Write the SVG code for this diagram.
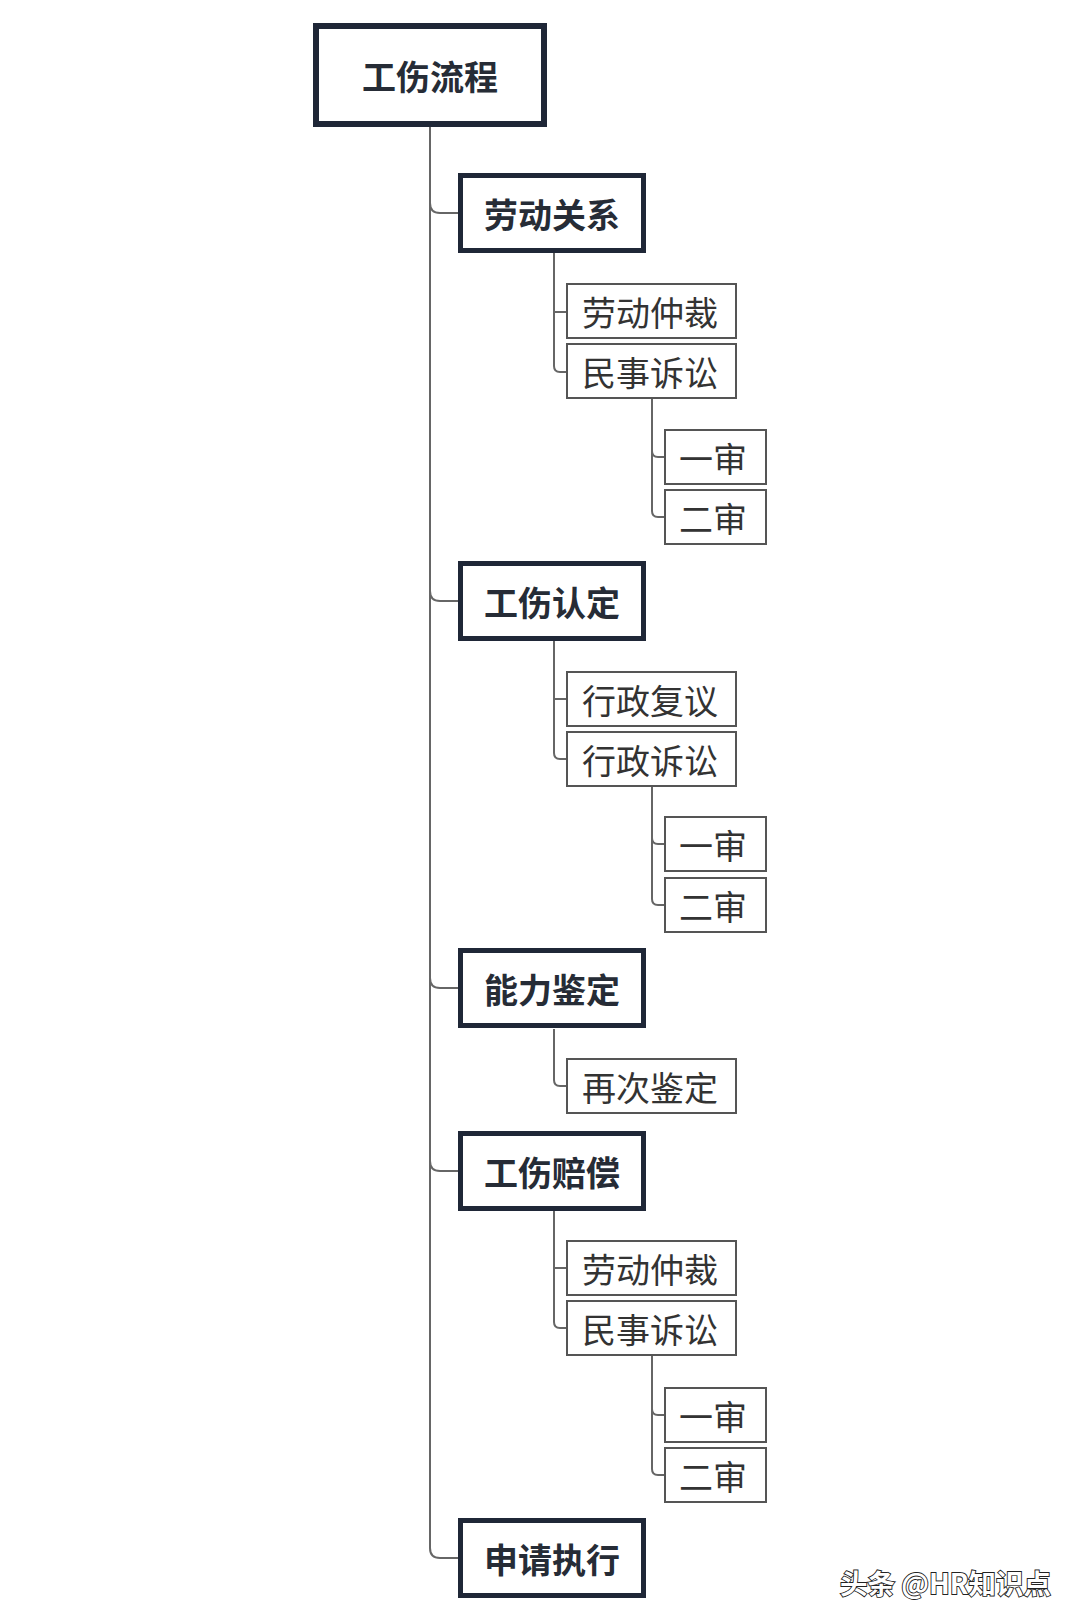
<svg xmlns="http://www.w3.org/2000/svg" width="1080" height="1620" viewBox="0 0 1080 1620">
<style>
text{font-family:"Noto Sans CJK SC","Noto Sans",sans-serif;text-anchor:middle;dominant-baseline:central}
.l1{fill:#fff;stroke:#1f2737;stroke-width:6}
.l2{fill:#fff;stroke:#1f2737;stroke-width:5}
.l3{fill:#fff;stroke:#555;stroke-width:2}
.t1{font-size:34px;font-weight:700;fill:#262c36}
.t3{font-size:34px;font-weight:400;fill:#333}
.c{fill:none;stroke:#666;stroke-width:2}
.wm{font-size:27.5px;font-weight:700;fill:#fff;stroke:#222;stroke-width:1.8;paint-order:stroke;text-anchor:start}
</style>
<rect width="1080" height="1620" fill="#fff"/>
<g id="connectors">
<path class="c" d="M430,127 V1548 Q430,1558 440,1558 H458"/>
<path class="c" d="M430,203 Q430,213 440,213 H458"/>
<path class="c" d="M430,591 Q430,601 440,601 H458"/>
<path class="c" d="M430,978 Q430,988 440,988 H458"/>
<path class="c" d="M430,1161 Q430,1171 440,1171 H458"/>
<path class="c" d="M554,253 V366 Q554,372 560,372 H566 M554,312 H566"/>
<path class="c" d="M652,398 V511 Q652,517 658,517 H664 M652,451 Q652,457 658,457 H664"/>
<path class="c" d="M554,641 V753 Q554,759 560,759 H566 M554,699 H566"/>
<path class="c" d="M652,787 V899 Q652,905 658,905 H664 M652,838 Q652,844 658,844 H664"/>
<path class="c" d="M554,1029 V1080 Q554,1086 560,1086 H566"/>
<path class="c" d="M554,1210 V1322 Q554,1328 560,1328 H566 M554,1268 H566"/>
<path class="c" d="M652,1356 V1469 Q652,1475 658,1475 H664 M652,1409 Q652,1415 658,1415 H664"/>
</g>
<g id="root"><rect class="l1" x="316" y="26" width="228" height="98"/><text class="t1" x="430" y="75">工伤流程</text></g>
<g id="n1"><rect class="l2" x="460.5" y="175.5" width="183" height="75"/><text class="t1" x="552" y="213">劳动关系</text></g>
<g id="n1a"><rect class="l3" x="567" y="284" width="169" height="54"/><text class="t3" x="650" y="311">劳动仲裁</text></g>
<g id="n1b"><rect class="l3" x="567" y="344" width="169" height="54"/><text class="t3" x="650" y="371">民事诉讼</text></g>
<g id="n1b1"><rect class="l3" x="665" y="430" width="101" height="54"/><text class="t3" x="713" y="457">一审</text></g>
<g id="n1b2"><rect class="l3" x="665" y="490" width="101" height="54"/><text class="t3" x="713" y="517">二审</text></g>
<g id="n2"><rect class="l2" x="460.5" y="563.5" width="183" height="75"/><text class="t1" x="552" y="601">工伤认定</text></g>
<g id="n2a"><rect class="l3" x="567" y="672" width="169" height="54"/><text class="t3" x="650" y="699">行政复议</text></g>
<g id="n2b"><rect class="l3" x="567" y="732" width="169" height="54"/><text class="t3" x="650" y="759">行政诉讼</text></g>
<g id="n2b1"><rect class="l3" x="665" y="817" width="101" height="54"/><text class="t3" x="713" y="844">一审</text></g>
<g id="n2b2"><rect class="l3" x="665" y="878" width="101" height="54"/><text class="t3" x="713" y="905">二审</text></g>
<g id="n3"><rect class="l2" x="460.5" y="950.5" width="183" height="75"/><text class="t1" x="552" y="988">能力鉴定</text></g>
<g id="n3a"><rect class="l3" x="567" y="1059" width="169" height="54"/><text class="t3" x="650" y="1086">再次鉴定</text></g>
<g id="n4"><rect class="l2" x="460.5" y="1133.5" width="183" height="75"/><text class="t1" x="552" y="1171">工伤赔偿</text></g>
<g id="n4a"><rect class="l3" x="567" y="1241" width="169" height="54"/><text class="t3" x="650" y="1268">劳动仲裁</text></g>
<g id="n4b"><rect class="l3" x="567" y="1301" width="169" height="54"/><text class="t3" x="650" y="1328">民事诉讼</text></g>
<g id="n4b1"><rect class="l3" x="665" y="1388" width="101" height="54"/><text class="t3" x="713" y="1415">一审</text></g>
<g id="n4b2"><rect class="l3" x="665" y="1448" width="101" height="54"/><text class="t3" x="713" y="1475">二审</text></g>
<g id="n5"><rect class="l2" x="460.5" y="1520.5" width="183" height="75"/><text class="t1" x="552" y="1558">申请执行</text></g>
<text class="wm" x="840" y="1582">头条 @HR知识点</text>
</svg>
